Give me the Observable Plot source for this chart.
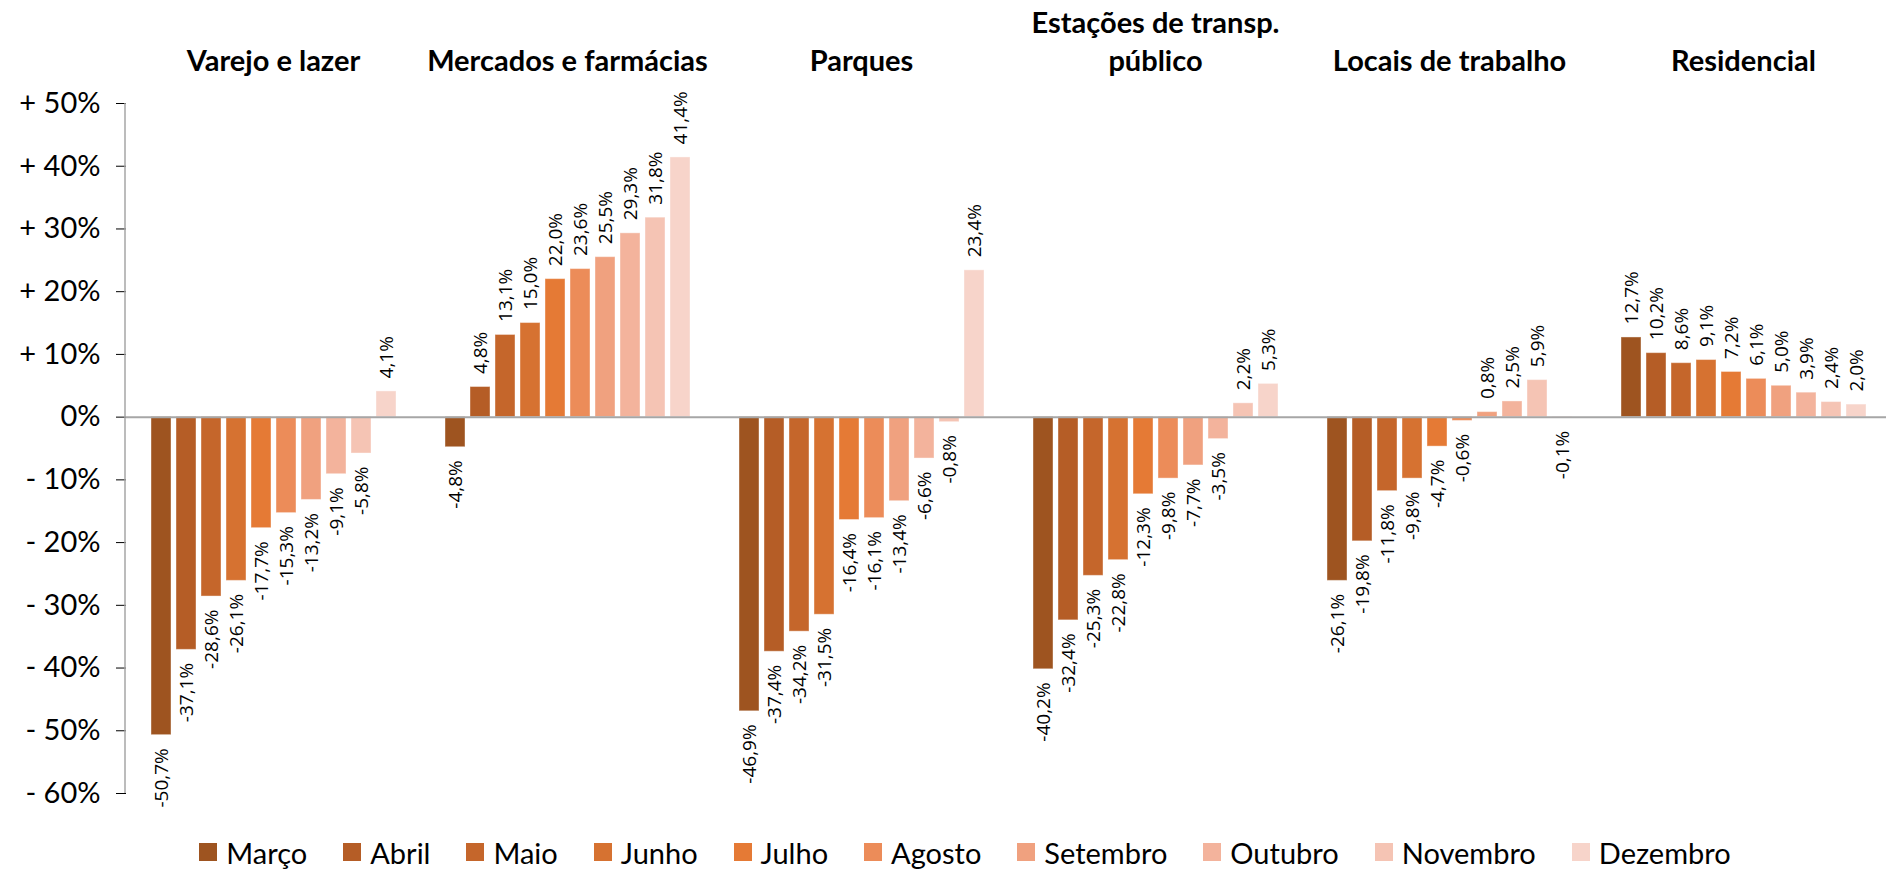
<!DOCTYPE html>
<html>
<head>
<meta charset="utf-8">
<script src="https://cdn.jsdelivr.net/npm/d3@7"></script>
<script src="https://cdn.jsdelivr.net/npm/@observablehq/plot@0.6"></script>
<style>
  html, body { margin: 0; padding: 0; background: #fff; }
  #chart svg { display: block; overflow: visible; }
  [aria-label="y-axis tick"] { stroke: #a6a6a6; }
  [aria-label="fx-axis tick label"] { font-weight: bold; }
  #legend { display: flex; justify-content: center; align-items: center; height: 34px;
    padding-left: 44px; font-family: Lato, sans-serif; font-size: 29px; color: #000; }
  .item { display: flex; align-items: center; margin: 0 18px; }
  .sw { width: 18px; height: 18px; margin-right: 9px; }
</style>
</head>
<body>
<div id="chart"></div>
<div id="legend"></div>
<script>
// ---- data ----
const groups = ["Varejo e lazer", "Mercados e farmácias", "Parques", "Estações de transp.\npúblico", "Locais de trabalho", "Residencial"];
const months = ["Março", "Abril", "Maio", "Junho", "Julho", "Agosto", "Setembro", "Outubro", "Novembro", "Dezembro"];
const colors = ["#9e5420", "#b55d26", "#c5662b", "#d67231", "#e57a35", "#ec8c59", "#f0a17f", "#f3b39c", "#f5c4b4", "#f7d4ca"];
const varejo = [-50.7, -37.1, -28.6, -26.1, -17.7, -15.3, -13.2, -9.1, -5.8, 4.1];
const mercados = [-4.8, 4.8, 13.1, 15.0, 22.0, 23.6, 25.5, 29.3, 31.8, 41.4];
const parques = [-46.9, -37.4, -34.2, -31.5, -16.4, -16.1, -13.4, -6.6, -0.8, 23.4];
const estacoes = [-40.2, -32.4, -25.3, -22.8, -12.3, -9.8, -7.7, -3.5, 2.2, 5.3];
const locais = [-26.1, -19.8, -11.8, -9.8, -4.7, -0.6, 0.8, 2.5, 5.9, -0.1];
const residencial = [12.7, 10.2, 8.6, 9.1, 7.2, 6.1, 5.0, 3.9, 2.4, 2.0];
const yTicks = [-60, -50, -40, -30, -20, -10, 0, 10, 20, 30, 40, 50];

const series = [varejo, mercados, parques, estacoes, locais, residencial];
const data = [];
groups.forEach((g, i) => months.forEach((m, j) => data.push({group: g, month: m, value: series[i][j]})));

const fmtVal = v => v.toFixed(1).replace(".", ",") + "%";
const fmtTick = d => d > 0 ? "+ " + d + "%" : d < 0 ? "- " + Math.abs(d) + "%" : "0%";

const labelStyle = {fontFamily: "'Open Sans', sans-serif", fontSize: 19, fill: "#000", rotate: -90};

const plot = Plot.plot({
  width: 1886,
  height: 835,
  marginTop: 103,
  marginBottom: 42,
  marginLeft: 125,
  marginRight: -4,
  style: {fontFamily: "Lato, sans-serif", fontSize: "29px", color: "#000", background: "#fff"},
  fx: {domain: groups, padding: 0, label: null},
  x: {domain: months, paddingInner: 0.21, paddingOuter: 0.83, axis: null},
  y: {domain: [-60, 50], ticks: yTicks, tickFormat: fmtTick, tickSize: 10, tickPadding: 16, label: null},
  color: {domain: months, range: colors},
  marks: [
    Plot.axisFx({anchor: "top", label: null, tickSize: 0, tickPadding: 33, fontSize: 29, fontWeight: "bold", lineHeight: 1.3}),
    Plot.barY(data, {fx: "group", x: "month", y: "value", fill: "month", stroke: "#fff", strokeOpacity: 0.4, strokeWidth: 1}),
    Plot.ruleY([0], {stroke: "#a6a6a6", strokeWidth: 2}),
    Plot.text(data.filter(d => d.value >= 0), {fx: "group", x: "month", y: "value", text: d => fmtVal(d.value), textAnchor: "start", dy: -13, ...labelStyle}),
    Plot.text(data.filter(d => d.value < 0), {fx: "group", x: "month", y: "value", text: d => fmtVal(d.value), textAnchor: "end", dy: 13, ...labelStyle})
  ]
});

// vertical y-axis line, positioned from the plot's own y scale
const ys = plot.scale("y");
d3.select(plot).append("line")
  .attr("x1", 125).attr("x2", 125)
  .attr("y1", ys.apply(50)).attr("y2", ys.apply(-60))
  .attr("stroke", "#a6a6a6").attr("stroke-width", 1.5);

document.getElementById("chart").appendChild(plot);

const legend = d3.select("#legend");
months.forEach((m, i) => {
  const it = legend.append("div").attr("class", "item");
  it.append("div").attr("class", "sw").style("background", colors[i]);
  it.append("span").text(m);
});
</script>
</body>
</html>
